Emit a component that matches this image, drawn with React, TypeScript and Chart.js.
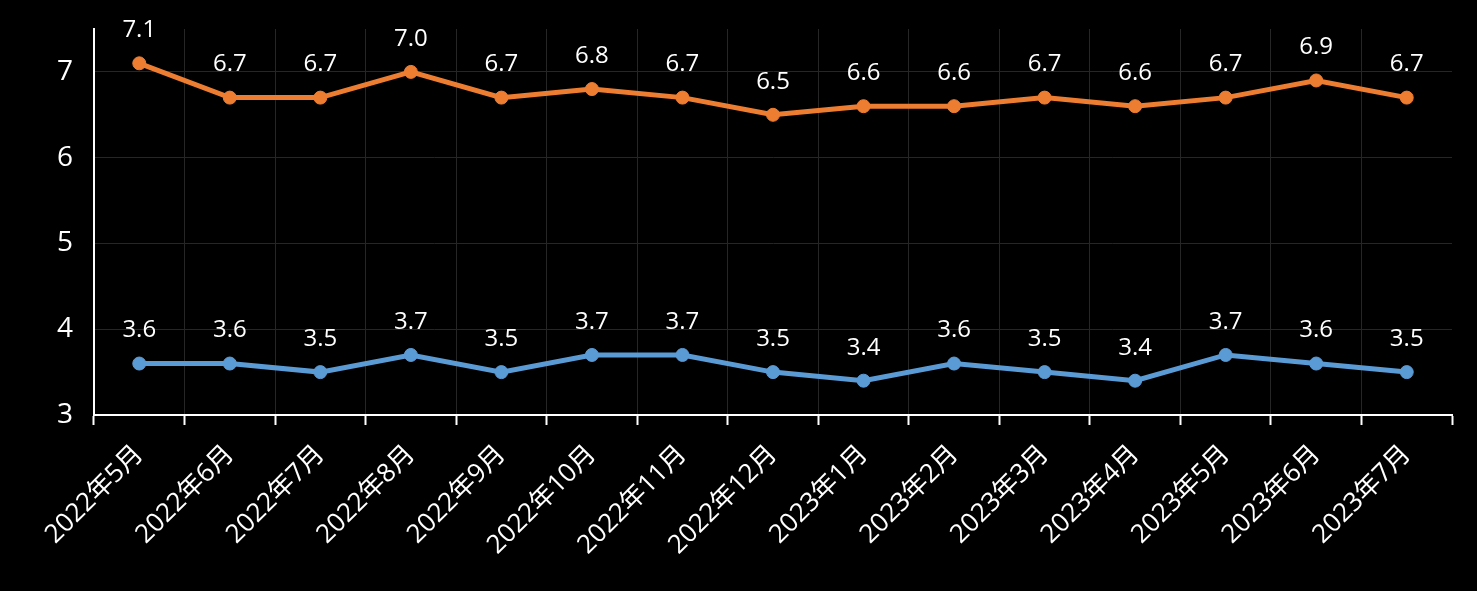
import React, { useEffect, useRef } from "react";
import { Chart, registerables } from "chart.js";

Chart.register(...registerables);

const categories = [
  "2022年5月", "2022年6月", "2022年7月", "2022年8月", "2022年9月",
  "2022年10月", "2022年11月", "2022年12月", "2023年1月", "2023年2月",
  "2023年3月", "2023年4月", "2023年5月", "2023年6月", "2023年7月",
];
const orangeSeries = [7.1, 6.7, 6.7, 7.0, 6.7, 6.8, 6.7, 6.5, 6.6, 6.6, 6.7, 6.6, 6.7, 6.9, 6.7];
const blueSeries = [3.6, 3.6, 3.5, 3.7, 3.5, 3.7, 3.7, 3.5, 3.4, 3.6, 3.5, 3.4, 3.7, 3.6, 3.5];
const yTicks = [3, 4, 5, 6, 7];

const FONT = "'Open Sans', 'Noto Sans CJK SC', sans-serif";

const dataLabelPlugin = {
  id: "dataLabels",
  afterDatasetsDraw(chart: any) {
    const ctx = chart.ctx;
    ctx.save();
    ctx.fillStyle = "#ffffff";
    ctx.font = `24px ${FONT}`;
    ctx.textAlign = "center";
    ctx.textBaseline = "middle";
    chart.data.datasets.forEach((ds: any, di: number) => {
      const meta = chart.getDatasetMeta(di);
      meta.data.forEach((pt: any, i: number) => {
        const v = ds.data[i];
        ctx.fillText(v.toFixed(1), pt.x, pt.y - 33);
      });
    });
    ctx.restore();
  },
};

export default function App() {
  const ref = useRef<HTMLCanvasElement>(null);
  useEffect(() => {
    document.body.style.margin = "0";
    document.body.style.background = "#000";
    const chart = new Chart(ref.current!, {
      type: "line",
      data: {
        labels: categories,
        datasets: [
          {
            data: orangeSeries,
            borderColor: "#ED7D31",
            backgroundColor: "#ED7D31",
            pointBackgroundColor: "#ED7D31",
            pointBorderColor: "#ED7D31",
            borderWidth: 5,
            pointRadius: 6.5,
            pointBorderWidth: 1,
            tension: 0,
          },
          {
            data: blueSeries,
            borderColor: "#5B9BD5",
            backgroundColor: "#5B9BD5",
            pointBackgroundColor: "#5B9BD5",
            pointBorderColor: "#5B9BD5",
            borderWidth: 5,
            pointRadius: 6.5,
            pointBorderWidth: 1,
            tension: 0,
          },
        ],
      },
      options: {
        animation: false,
        responsive: false,
        maintainAspectRatio: false,
        layout: { padding: { left: 0, top: 29, right: 25, bottom: 0 } },
        plugins: { legend: { display: false }, tooltip: { enabled: false } },
        scales: {
          x: {
            offset: true,
            grid: {
              offset: true,
              color: (c: any) => (c.type === "tick" ? "#262626" : "transparent"),
              tickColor: "#ffffff",
              tickLength: 10,
              tickWidth: 2,
              lineWidth: 1,
            },
            border: { color: "#ffffff", width: 2 },
            ticks: {
              color: "#ffffff",
              font: { family: FONT, size: 26 },
              minRotation: 45,
              maxRotation: 45,
              padding: 14,
              autoSkip: false,
            },
            afterFit: (s: any) => {
              s.height = 176;
            },
          },
          y: {
            min: 3,
            max: 7.5,
            afterBuildTicks: (s: any) => {
              s.ticks = yTicks.map((v) => ({ value: v }));
            },
            grid: {
              color: "#262626",
              drawTicks: true,
              tickLength: 21,
              tickColor: "transparent",
              lineWidth: 1,
            },
            border: { color: "#ffffff", width: 2 },
            ticks: {
              color: "#ffffff",
              font: { family: FONT, size: 28 },
              padding: 0,
            },
            afterFit: (s: any) => {
              s.width = 94;
            },
          },
        },
      },
      plugins: [dataLabelPlugin],
    });
    return () => chart.destroy();
  }, []);
  return (
    <div style={{ width: 1477, height: 591, background: "#000" }}>
      <canvas ref={ref} width={1477} height={591} style={{ width: 1477, height: 591, display: "block" }} />
    </div>
  );
}
